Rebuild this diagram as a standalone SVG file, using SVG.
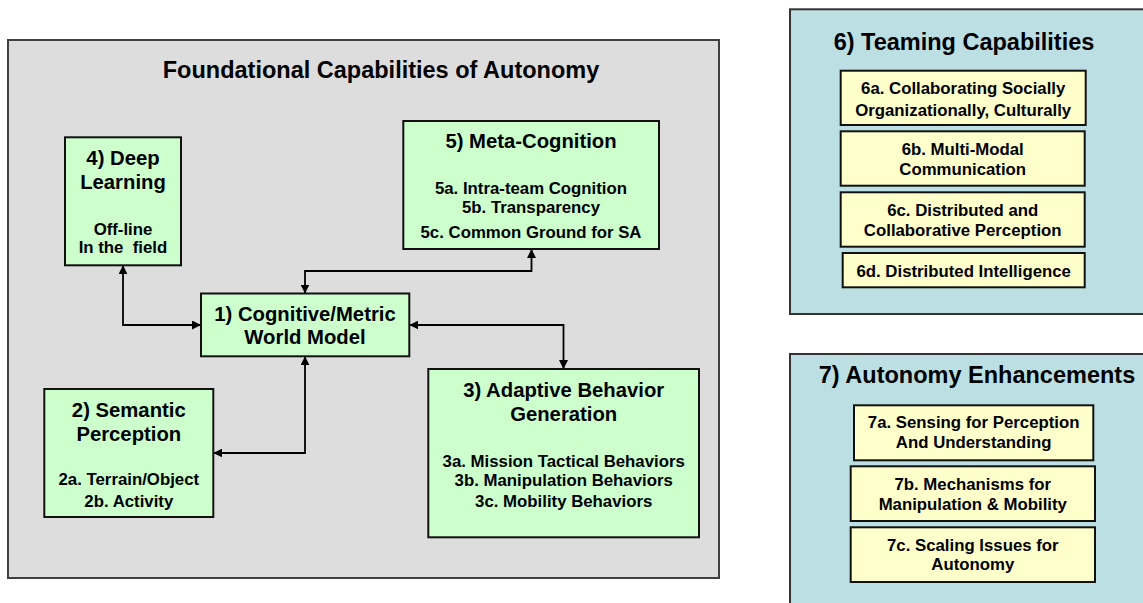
<svg xmlns="http://www.w3.org/2000/svg" width="1143" height="603" viewBox="0 0 1143 603">
<style>
text{font-family:"Liberation Sans",Arial,sans-serif;font-weight:bold;fill:#000;text-anchor:middle}
.t{font-size:23.5px}
.h{font-size:20.3px}
.s{font-size:16.8px}
.bg{fill:#dddddd;stroke:#404040;stroke-width:2}
.pn{fill:#bbdfe2;stroke:#333;stroke-width:2}
.g{fill:#ccffcc;stroke:#111;stroke-width:2}
.y{fill:#ffffcc;stroke:#111;stroke-width:2}
.c{fill:none;stroke:#000;stroke-width:1.8}
</style>
<defs>
<marker id="ah" viewBox="0 0 10 10" refX="10" refY="5" markerWidth="9" markerHeight="9" markerUnits="userSpaceOnUse" orient="auto-start-reverse">
<path d="M0,0 L10,5 L0,10 z" fill="#000"/>
</marker>
</defs>
<rect width="1143" height="603" fill="#fff"/>
<g id="foundational">
<rect class="bg" x="8" y="40" width="711" height="538"/>
<text class="t" x="381" y="78">Foundational Capabilities of Autonomy</text>
</g>
<g id="connectors">
<path class="c" d="M123,265.3 V325 H201" marker-start="url(#ah)" marker-end="url(#ah)"/>
<path class="c" d="M531.5,249 V271 H305 V293.5" marker-start="url(#ah)" marker-end="url(#ah)"/>
<path class="c" d="M409.3,325 H563.5 V369" marker-start="url(#ah)" marker-end="url(#ah)"/>
<path class="c" d="M305,356.3 V453 H213.3" marker-start="url(#ah)" marker-end="url(#ah)"/>
</g>
<g id="n4">
<rect class="g" x="65" y="137.3" width="116" height="128"/>
<text class="h" x="123" y="165">4) Deep</text>
<text class="h" x="123" y="189">Learning</text>
<text class="s" x="123" y="234.7">Off-line</text>
<text class="s" x="123" y="253.3" xml:space="preserve">In the  field</text>
</g>
<g id="n5">
<rect class="g" x="403.3" y="121" width="255.7" height="128"/>
<text class="h" x="531" y="148.3">5) Meta-Cognition</text>
<text class="s" x="531" y="194.3">5a. Intra-team Cognition</text>
<text class="s" x="531" y="213.3">5b. Transparency</text>
<text class="s" x="531" y="237.7">5c. Common Ground for SA</text>
</g>
<g id="n1">
<rect class="g" x="201" y="293.5" width="208.3" height="62.8"/>
<text class="h" x="305" y="320.7">1) Cognitive/Metric</text>
<text class="h" x="305" y="344">World Model</text>
</g>
<g id="n2">
<rect class="g" x="44.3" y="389" width="169" height="128"/>
<text class="h" x="128.8" y="416.7">2) Semantic</text>
<text class="h" x="128.8" y="441">Perception</text>
<text class="s" x="128.8" y="485">2a. Terrain/Object</text>
<text class="s" x="128.8" y="506.7">2b. Activity</text>
</g>
<g id="n3">
<rect class="g" x="428.3" y="369" width="270.7" height="168.3"/>
<text class="h" x="563.7" y="396.7">3) Adaptive Behavior</text>
<text class="h" x="563.7" y="420.7">Generation</text>
<text class="s" x="563.7" y="466.7">3a. Mission Tactical Behaviors</text>
<text class="s" x="563.7" y="486">3b. Manipulation Behaviors</text>
<text class="s" x="563.7" y="506.7">3c. Mobility Behaviors</text>
</g>
<g id="n6">
<rect class="pn" x="790" y="9.3" width="370" height="304.7"/>
<text class="t" x="964" y="50">6) Teaming Capabilities</text>
<rect class="y" x="840.7" y="70.7" width="245" height="54.3"/>
<text class="s" x="963.2" y="94">6a. Collaborating Socially</text>
<text class="s" x="963.2" y="115.5">Organizationally, Culturally</text>
<rect class="y" x="840.7" y="131.3" width="244" height="54.4"/>
<text class="s" x="962.7" y="155">6b. Multi-Modal</text>
<text class="s" x="962.7" y="175">Communication</text>
<rect class="y" x="840.7" y="192.3" width="244" height="54.4"/>
<text class="s" x="962.7" y="216">6c. Distributed and</text>
<text class="s" x="962.7" y="235.7">Collaborative Perception</text>
<rect class="y" x="842.7" y="253" width="242" height="34.3"/>
<text class="s" x="963.7" y="276.7">6d. Distributed Intelligence</text>
</g>
<g id="n7">
<rect class="pn" x="790" y="354" width="370" height="270"/>
<text class="t" x="977" y="383.3">7) Autonomy Enhancements</text>
<rect class="y" x="854" y="405.3" width="239.3" height="55"/>
<text class="s" x="973.7" y="428.3">7a. Sensing for Perception</text>
<text class="s" x="973.7" y="448.3">And Understanding</text>
<rect class="y" x="850.7" y="466.3" width="244.3" height="54.7"/>
<text class="s" x="972.8" y="490">7b. Mechanisms for</text>
<text class="s" x="972.8" y="509.5">Manipulation &amp; Mobility</text>
<rect class="y" x="850.7" y="527.3" width="244.3" height="54.7"/>
<text class="s" x="972.8" y="550.7">7c. Scaling Issues for</text>
<text class="s" x="972.8" y="570">Autonomy</text>
</g>
</svg>
